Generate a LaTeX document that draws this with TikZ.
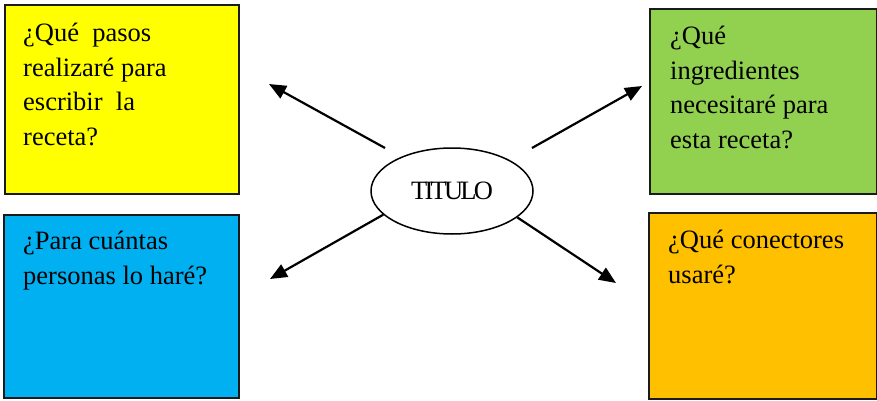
\documentclass[tikz,border=0pt]{standalone}
\usepackage{fontspec}
\setmainfont{Liberation Serif}
\usetikzlibrary{arrows.meta,shapes.geometric}
\definecolor{cyellow}{HTML}{FFFF00}
\definecolor{cgreen}{HTML}{92D050}
\definecolor{cblue}{HTML}{00B0F0}
\definecolor{corange}{HTML}{FFC000}
\definecolor{cedge}{HTML}{1A1A1A}
\tikzset{
  qbox/.style={draw=cedge, line width=1.8pt, rectangle, anchor=north west, inner sep=0pt},
  qtext/.style={anchor=base west, inner sep=0pt, align=left, font=\fontsize{26.5}{34.5}\selectfont},
  conn/.style={line width=2.2pt, -{Triangle[length=17pt,width=14pt]}},
}
\begin{document}
\begin{tikzpicture}[x=1pt,y=-1pt]
\useasboundingbox (0,0) rectangle (877,401);
% boxes
\node[qbox, fill=cyellow, minimum width=234pt, minimum height=189pt] (yb) at (4,4) {};
\node[qbox, fill=cblue,   minimum width=235pt, minimum height=183pt] (bb) at (3,214) {};
\node[qbox, fill=cgreen,  minimum width=227pt, minimum height=185pt] (gb) at (649,8) {};
\node[qbox, fill=corange, minimum width=228pt, minimum height=186pt] (ob) at (648,212) {};
% texts (anchored at the baseline of their last line)
\node[qtext] (yt) at (23,145) {¿Qué\ \ pasos\\realizaré para\\escribir\ \ la\\receta?};
\node[qtext] (bt) at (23,284) {¿Para cuántas\\personas lo haré?};
\node[qtext] (gt) at (670,148) {¿Qué\\ingredientes\\necesitaré para\\esta receta?};
\node[qtext] (ot) at (668,283) {¿Qué conectores\\usaré?};
% centre
\node[draw, ellipse, line width=1.5pt, minimum width=162pt, minimum height=86pt, inner sep=0pt,
      font=\fontsize{26.5}{30}\selectfont\addfontfeature{LetterSpace=-10.5}] (ct) at (452,191) {TITULO};
% connector ends
\coordinate (s1) at (385,148);
\coordinate (t1) at (269,84);
\coordinate (s2) at (532,148);
\coordinate (t2) at (642,86);
\coordinate (t3) at (270,279);
\coordinate (t4) at (616,283);
\draw[conn] (s1) -- (t1);
\draw[conn] (s2) -- (t2);
\draw[conn] (ct.{199}) -- (t3);
\draw[conn] (ct.{-22}) -- (t4);
\end{tikzpicture}
\end{document}
